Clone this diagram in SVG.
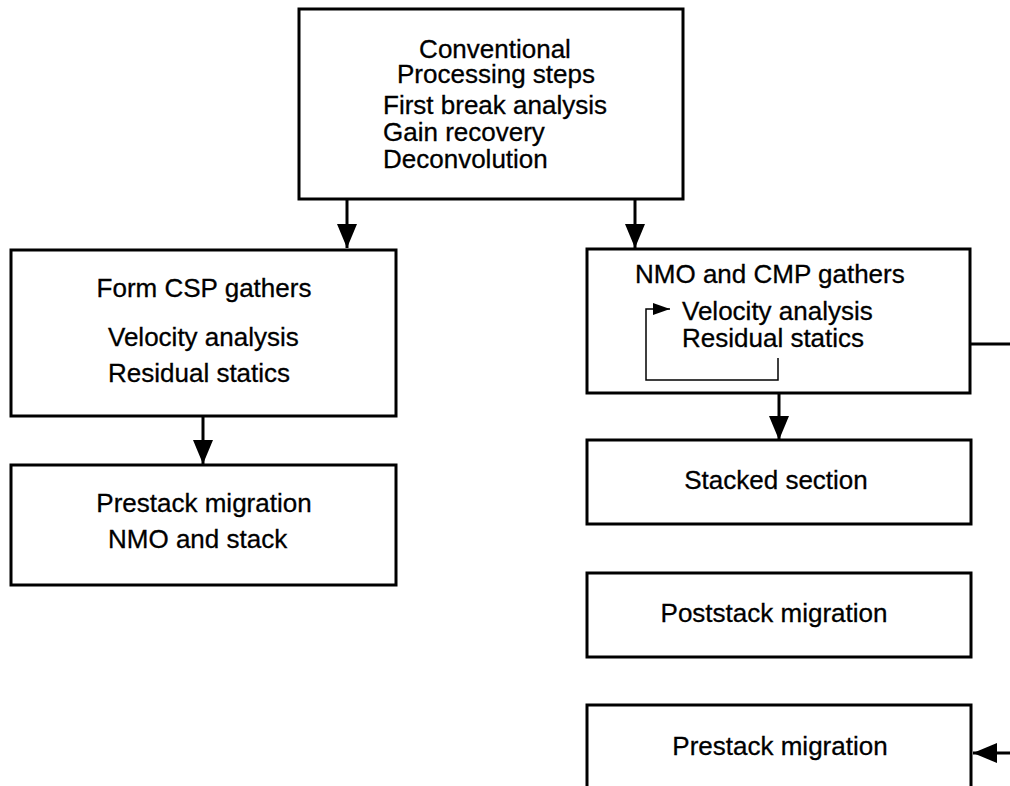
<svg xmlns="http://www.w3.org/2000/svg" width="1010" height="786" viewBox="0 0 1010 786">
<style>
.box{fill:#fff;stroke:#000;stroke-width:3}
.t{font-family:"Liberation Sans",Arial,sans-serif;font-size:26px;fill:#000;stroke:#000;stroke-width:0.3}
.m{text-anchor:middle}
.c{fill:none;stroke:#000;stroke-width:3}
.thin{fill:none;stroke:#000;stroke-width:1.5}
</style>
<defs>
<marker id="ah" markerUnits="userSpaceOnUse" markerWidth="24" markerHeight="20" refX="24" refY="10" orient="auto">
<path d="M0,0 L24,10 L0,20 z" fill="#000"/>
</marker>
<marker id="ahs" markerUnits="userSpaceOnUse" markerWidth="17" markerHeight="12" refX="17" refY="6" orient="auto">
<path d="M0,0 L17,6 L0,12 z" fill="#000"/>
</marker>
</defs>
<rect width="1010" height="786" fill="#fff"/>
<g id="top">
<rect class="box" x="299" y="9" width="384" height="190"/>
<text class="t m" x="495" y="58">Conventional</text>
<text class="t m" x="496" y="83">Processing steps</text>
<text class="t" x="383" y="114">First break analysis</text>
<text class="t" x="383" y="141">Gain recovery</text>
<text class="t" x="383" y="168">Deconvolution</text>
</g>
<g id="csp">
<rect class="box" x="11" y="250" width="385" height="166"/>
<text class="t m" x="204" y="297">Form CSP gathers</text>
<text class="t" x="108" y="346">Velocity analysis</text>
<text class="t" x="108" y="382">Residual statics</text>
</g>
<g id="prestack-left">
<rect class="box" x="11" y="465" width="385" height="120"/>
<text class="t m" x="204" y="512">Prestack migration</text>
<text class="t" x="108" y="548">NMO and stack</text>
</g>
<g id="nmo">
<rect class="box" x="587" y="249" width="383" height="144"/>
<text class="t" x="635" y="283">NMO and CMP gathers</text>
<text class="t" x="682" y="320">Velocity analysis</text>
<text class="t" x="682" y="347">Residual statics</text>
</g>
<g id="stacked">
<rect class="box" x="587" y="440" width="384" height="84"/>
<text class="t m" x="776" y="489">Stacked section</text>
</g>
<g id="poststack">
<rect class="box" x="587" y="573" width="384" height="84"/>
<text class="t m" x="774" y="622">Poststack migration</text>
</g>
<g id="prestack-right">
<rect class="box" x="587" y="705" width="384" height="100"/>
<text class="t m" x="780" y="755">Prestack migration</text>
</g>
<g id="connectors">
<line class="c" x1="347" y1="199" x2="347" y2="248" marker-end="url(#ah)"/>
<line class="c" x1="635" y1="199" x2="635" y2="248" marker-end="url(#ah)"/>
<line class="c" x1="203" y1="416" x2="203" y2="464" marker-end="url(#ah)"/>
<line class="c" x1="779" y1="393" x2="779" y2="440" marker-end="url(#ah)"/>
<path class="thin" d="M778,358 V380 H646 V309 H670" marker-end="url(#ahs)"/>
<line class="c" x1="970" y1="344" x2="1010" y2="344"/>
<line class="c" x1="1010" y1="753" x2="973" y2="753" marker-end="url(#ah)"/>
</g>
</svg>
